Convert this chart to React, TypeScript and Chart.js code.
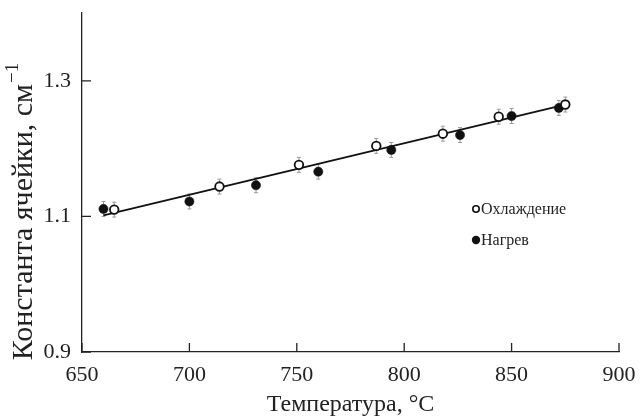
import React, { useEffect, useRef } from "react";
import { Chart, registerables } from "chart.js";

Chart.register(...registerables);

// ---- data ----
const coolT = [665, 714, 751, 787, 818, 844, 875];
const coolK = [1.11, 1.144, 1.176, 1.204, 1.222, 1.247, 1.265];
const coolErr = [0.011, 0.011, 0.011, 0.011, 0.011, 0.011, 0.011];

const heatT = [660, 700, 731, 760, 794, 826, 850, 872];
const heatK = [1.111, 1.122, 1.146, 1.166, 1.198, 1.22, 1.248, 1.26];
const heatErr = [0.011, 0.011, 0.011, 0.011, 0.011, 0.011, 0.011, 0.011];

const fitT = [660, 875];
const fitK = [1.1015, 1.265];

const xTicks = [650, 700, 750, 800, 850, 900];
const yTicks = [0.9, 1.1, 1.3];

const xTitle = "Температура, °C";
const yTitle = "Константа ячейки, см";
const yTitleSup = "−1";
const legendLabels = ["Охлаждение", "Нагрев"];

const FONT = '"Liberation Serif", "Times New Roman", serif';
const INK = "#222";

const inwardTicks = {
  id: "inwardTicks",
  afterDraw(chart: any) {
    const { ctx, chartArea } = chart;
    const xs = chart.scales.x;
    const ys = chart.scales.y;
    ctx.save();
    ctx.strokeStyle = INK;
    ctx.lineWidth = 1.3;
    ctx.beginPath();
    xTicks.forEach((v) => {
      const px = xs.getPixelForValue(v);
      ctx.moveTo(px, chartArea.bottom);
      ctx.lineTo(px, chartArea.bottom - 9);
    });
    yTicks.forEach((v) => {
      const py = ys.getPixelForValue(v);
      ctx.moveTo(chartArea.left, py);
      ctx.lineTo(chartArea.left + 9, py);
    });
    ctx.stroke();
    ctx.restore();
  },
};

const errorBars = {
  id: "errorBars",
  beforeDatasetsDraw(chart: any) {
    const { ctx } = chart;
    const ys = chart.scales.y;
    ctx.save();
    ctx.strokeStyle = "#9a9a9a";
    ctx.lineWidth = 1;
    chart.data.datasets.forEach((ds: any, di: number) => {
      if (!ds.errs) return;
      const meta = chart.getDatasetMeta(di);
      meta.data.forEach((pt: any, i: number) => {
        const v = ds.data[i].y;
        const e = ds.errs[i];
        const y1 = ys.getPixelForValue(v + e);
        const y2 = ys.getPixelForValue(v - e);
        ctx.beginPath();
        ctx.moveTo(pt.x, y1);
        ctx.lineTo(pt.x, y2);
        ctx.moveTo(pt.x - 2, y1);
        ctx.lineTo(pt.x + 2, y1);
        ctx.moveTo(pt.x - 2, y2);
        ctx.lineTo(pt.x + 2, y2);
        ctx.stroke();
      });
    });
    ctx.restore();
  },
};

const customText = {
  id: "customText",
  afterDraw(chart: any) {
    const { ctx, chartArea } = chart;
    ctx.save();
    // y title
    ctx.fillStyle = INK;
    ctx.translate(24, 212);
    ctx.rotate(-Math.PI / 2);
    ctx.textBaseline = "middle";
    ctx.textAlign = "left";
    ctx.font = `30px ${FONT}`;
    const w1 = ctx.measureText(yTitle).width;
    ctx.font = `19px ${FONT}`;
    const w2 = ctx.measureText(yTitleSup).width;
    const start = -(w1 + w2) / 2;
    ctx.font = `30px ${FONT}`;
    ctx.fillText(yTitle, start, 0);
    ctx.font = `19px ${FONT}`;
    ctx.fillText(yTitleSup, start + w1 + 1, -11);
    ctx.restore();

    // legend
    ctx.save();
    const lx = chartArea.left + 394;
    const ly = chartArea.top + 196;
    ctx.font = `16px ${FONT}`;
    ctx.textBaseline = "middle";
    ctx.beginPath();
    ctx.arc(lx, ly, 3.2, 0, Math.PI * 2);
    ctx.fillStyle = "#fff";
    ctx.fill();
    ctx.strokeStyle = "#111";
    ctx.lineWidth = 1.6;
    ctx.stroke();
    ctx.fillStyle = INK;
    ctx.fillText(legendLabels[0], lx + 5, ly + 1);
    ctx.beginPath();
    ctx.arc(lx, ly + 31, 4.2, 0, Math.PI * 2);
    ctx.fillStyle = "#111";
    ctx.fill();
    ctx.fillStyle = INK;
    ctx.fillText(legendLabels[1], lx + 5, ly + 32);
    ctx.restore();
  },
};

export default function App() {
  const ref = useRef<HTMLCanvasElement | null>(null);

  useEffect(() => {
    if (!ref.current) return;
    const chart = new Chart(ref.current, {
      type: "scatter",
      data: {
        datasets: [
          {
            label: legendLabels[0],
            data: coolT.map((t, i) => ({ x: t, y: coolK[i] })),
            errs: coolErr,
            pointRadius: 4.3,
            pointBorderWidth: 1.8,
            pointBackgroundColor: "#fff",
            pointBorderColor: "#111",
            order: 0,
          } as any,
          {
            label: legendLabels[1],
            data: heatT.map((t, i) => ({ x: t, y: heatK[i] })),
            errs: heatErr,
            pointRadius: 4.6,
            pointBorderWidth: 0.5,
            pointBackgroundColor: "#111",
            pointBorderColor: "#111",
            order: 1,
          } as any,
          {
            label: "fit",
            data: fitT.map((t, i) => ({ x: t, y: fitK[i] })),
            showLine: true,
            borderColor: "#111",
            borderWidth: 1.8,
            pointRadius: 0,
            order: 2,
          } as any,
        ],
      },
      options: {
        animation: false,
        responsive: false,
        events: [],
        layout: { padding: { top: 0, right: 0, bottom: 0, left: 0 } },
        plugins: {
          legend: { display: false },
          tooltip: { enabled: false },
        },
        scales: {
          x: {
            type: "linear",
            min: 650,
            max: 900,
            afterBuildTicks: (s: any) => {
              s.ticks = xTicks.map((v) => ({ value: v }));
            },
            afterFit: (s: any) => {
              s.height = 65;
              s.paddingLeft = 0;
              s.paddingRight = 21;
            },
            grid: { display: false, drawTicks: false },
            border: { display: true, color: INK, width: 1.3 },
            ticks: {
              font: { family: FONT, size: 22 },
              color: INK,
              padding: 10,
              maxRotation: 0,
              autoSkip: false,
            },
            title: {
              display: true,
              text: xTitle,
              font: { family: FONT, size: 24, lineHeight: 1.0 },
              color: INK,
              padding: 0,
            },
          },
          y: {
            type: "linear",
            min: 0.9,
            max: 1.4,
            afterBuildTicks: (s: any) => {
              s.ticks = yTicks.map((v) => ({ value: v }));
            },
            afterFit: (s: any) => {
              s.width = 82;
              s.paddingTop = 13;
              s.paddingBottom = 0;
            },
            grid: { display: false, drawTicks: false },
            border: { display: true, color: INK, width: 1.3 },
            ticks: {
              font: { family: FONT, size: 22 },
              color: INK,
              padding: 11,
              callback: (v: any) => Number(v).toFixed(1),
            },
          },
        },
      },
      plugins: [errorBars, inwardTicks, customText],
    } as any);
    return () => chart.destroy();
  }, []);

  return (
    <div style={{ position: "fixed", left: 0, top: 0, width: 640, height: 417, background: "#fff" }}>
      <canvas ref={ref} width={640} height={417} style={{ display: "block" }} />
    </div>
  );
}
